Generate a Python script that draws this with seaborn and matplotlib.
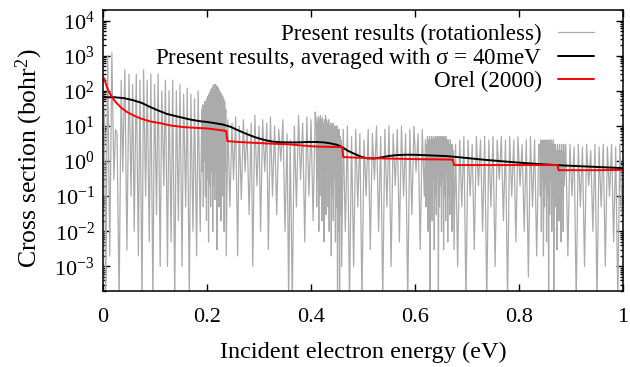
import numpy as np
import pandas as pd
import matplotlib
matplotlib.use("Agg")
import matplotlib.pyplot as plt
import seaborn as sns
from matplotlib.ticker import FixedLocator, FixedFormatter, LogLocator, NullFormatter

# ---------------- data ----------------
# Present results (rotationless): energy (eV) and cross section (bohr^2)
e_gray = [
    0.000, 0.003, 0.005, 0.009, 0.013, 0.017, 0.021, 0.024, 0.027, 0.031,
    0.035, 0.038, 0.042, 0.046, 0.050, 0.054, 0.057, 0.060, 0.064, 0.068,
    0.071, 0.075, 0.078, 0.082, 0.085, 0.089, 0.092, 0.096, 0.099, 0.103,
    0.106, 0.110, 0.113, 0.117, 0.120, 0.124, 0.127, 0.131, 0.134, 0.138,
    0.141, 0.145, 0.148, 0.152, 0.155, 0.159, 0.162, 0.166, 0.169, 0.173,
    0.176, 0.180, 0.183, 0.187,
    0.190, 0.191, 0.192, 0.193, 0.194, 0.195, 0.196, 0.197, 0.198, 0.199,
    0.200, 0.201, 0.202, 0.203, 0.204, 0.205, 0.206, 0.207, 0.208, 0.209,
    0.210, 0.211, 0.212, 0.213, 0.214, 0.215, 0.216, 0.217, 0.218, 0.219,
    0.220, 0.221, 0.222, 0.223, 0.224, 0.225, 0.226, 0.227, 0.228, 0.229,
    0.230, 0.231, 0.232, 0.233, 0.234, 0.235, 0.236, 0.237,
    0.240, 0.244, 0.248, 0.251, 0.255, 0.259, 0.262, 0.266, 0.270, 0.273,
    0.277, 0.281, 0.285, 0.288, 0.292, 0.296, 0.300, 0.303, 0.307, 0.311,
    0.315, 0.318, 0.322, 0.326, 0.330, 0.334, 0.338, 0.342, 0.346, 0.350,
    0.354, 0.357, 0.360, 0.364, 0.368, 0.372, 0.376, 0.380, 0.384, 0.388,
    0.392, 0.396, 0.400, 0.404, 0.408,
    0.410, 0.411, 0.412, 0.413, 0.414, 0.415, 0.416, 0.417, 0.418, 0.419,
    0.420, 0.421, 0.422, 0.423, 0.424, 0.425, 0.426, 0.427, 0.428, 0.429,
    0.430, 0.431, 0.432, 0.433, 0.434, 0.435, 0.436, 0.437, 0.438, 0.439,
    0.440, 0.441, 0.442, 0.443, 0.444, 0.445, 0.446, 0.447, 0.448, 0.449,
    0.450, 0.451, 0.452, 0.453, 0.454, 0.455, 0.456, 0.457, 0.458, 0.459,
    0.462, 0.466, 0.470, 0.474, 0.478, 0.482, 0.486, 0.490, 0.494, 0.498,
    0.502, 0.506, 0.510, 0.514, 0.518, 0.522, 0.526, 0.530, 0.534, 0.538,
    0.542, 0.546, 0.550, 0.554, 0.558, 0.562, 0.566, 0.570, 0.574, 0.578,
    0.582, 0.586, 0.590, 0.594, 0.598, 0.602, 0.606, 0.610, 0.614, 0.618,
    0.620, 0.621, 0.622, 0.623, 0.624, 0.625, 0.626, 0.627, 0.628, 0.629,
    0.630, 0.631, 0.632, 0.633, 0.634, 0.635, 0.636, 0.637, 0.638, 0.639,
    0.640, 0.641, 0.642, 0.643, 0.644, 0.645, 0.646, 0.647, 0.648, 0.649,
    0.650, 0.651, 0.652, 0.653, 0.654, 0.655, 0.656, 0.657, 0.658, 0.659,
    0.660, 0.661, 0.662, 0.663, 0.664, 0.665, 0.666, 0.667, 0.668, 0.669,
    0.670, 0.671, 0.672, 0.673, 0.674, 0.675,
    0.678, 0.682, 0.686, 0.690, 0.694, 0.698, 0.702, 0.706, 0.710, 0.714,
    0.718, 0.722, 0.726, 0.730, 0.734, 0.738, 0.742, 0.746, 0.750, 0.754,
    0.758, 0.762, 0.766, 0.770, 0.774, 0.778, 0.782, 0.786, 0.790, 0.794,
    0.798, 0.802, 0.806, 0.810, 0.814, 0.818, 0.822, 0.826, 0.830, 0.834,
    0.838,
    0.840, 0.841, 0.842, 0.843, 0.844, 0.845, 0.846, 0.847, 0.848, 0.849,
    0.850, 0.851, 0.852, 0.853, 0.854, 0.855, 0.856, 0.857, 0.858, 0.859,
    0.860, 0.861, 0.862, 0.863, 0.864, 0.865, 0.866, 0.867, 0.868, 0.869,
    0.870, 0.871, 0.872, 0.873, 0.874, 0.875, 0.876, 0.877, 0.878, 0.879,
    0.880, 0.881, 0.882, 0.883, 0.884, 0.885, 0.886, 0.887,
    0.890, 0.894, 0.898, 0.902, 0.906, 0.910, 0.914, 0.918, 0.922, 0.926,
    0.930, 0.934, 0.938, 0.942, 0.946, 0.950, 0.954, 0.958, 0.962, 0.966,
    0.970, 0.974, 0.978, 0.982, 0.986, 0.990, 0.994, 0.998, 1.000,
]
xs_gray = [
    60, 20, 1e-4, 1e3, 2e-3, 1.2e3, 3e-1, 8, 6, 1e-4,
    2e2, 5e-1, 4e2, 3e-3, 3e2, 1e-1, 1.5e2, 1e-2, 3e2, 2e-3,
    2e2, 1e-4, 4e2, 1e-1, 2e2, 5e-3, 3e2, 1e-4, 1.5e2, 3e-2,
    3e2, 1e-3, 1e2, 2e-1, 2e2, 1e-3, 1e2, 5e-3, 2e2, 1e-4,
    1e2, 2e-2, 1.5e2, 1e-3, 8e1, 5e-2, 1.2e2, 1e-4, 8e1, 1e-2,
    6e1, 2e-3, 1e2, 1e-2,
    30, 0.5, 40, 0.05, 35, 1, 50, 0.1, 40, 0.02,
    60, 0.3, 70, 0.005, 80, 0.2, 90, 0.05, 110, 0.5,
    120, 0.01, 140, 0.2, 150, 0.08, 150, 0.5, 140, 0.003,
    130, 0.3, 120, 0.05, 100, 0.8, 90, 0.02, 80, 0.4,
    70, 0.1, 60, 0.01, 50, 0.5, 30, 2e-3,
    15, 5e-2, 12, 3e-1, 18, 2e-3, 10, 8e-2, 15, 5e-1,
    8, 3e-2, 12, 1e-3, 20, 2e-1, 10, 1e-2, 15, 5e-1,
    12, 3e-3, 18, 1e-1, 10, 3e-2, 8, 1, 15, 1e-2,
    6, 1e-4, 4, 1e-4, 10, 5e-2, 20, 3e-1, 12, 5e-3,
    18, 1e-1, 15, 2e-2, 25,
    15, 0.05, 12, 0.3, 18, 0.01, 15, 0.1, 20, 0.5,
    15, 0.02, 18, 0.2, 12, 0.005, 15, 0.3, 20, 0.03,
    15, 0.8, 12, 0.05, 15, 0.01, 10, 0.2, 12, 0.002,
    10, 0.1, 12, 0.02, 8, 0.3, 10, 0.005, 8, 0.05,
    10, 1e-4, 6, 0.01, 8, 1e-4, 5, 0.03, 4, 1e-3,
    8, 1e-2, 10, 1e-4, 5, 1e-3, 8, 5e-2, 6, 1e-4,
    4, 1e-1, 8, 3e-3, 6, 3e-1, 10, 1e-2, 5, 1e-4,
    8, 5e-2, 10, 1e-3, 6, 2e-1, 8, 5e-3, 10, 1e-1,
    6, 1e-4, 8, 3e-2, 10, 5e-1, 6, 3e-3, 8, 1e-1,
    4, 0.05, 3, 0.2, 5, 0.01, 4, 0.5, 5, 1e-4,
    4, 0.1, 5, 0.02, 4, 0.3, 5, 3e-3, 4, 0.1,
    5, 0.03, 4, 0.5, 5, 1e-4, 4, 0.05, 5, 0.2,
    4, 0.01, 5, 0.3, 4, 3e-3, 5, 0.1, 4, 0.02,
    5, 0.5, 4, 5e-3, 4, 0.1, 3, 0.03, 4, 0.3,
    3, 0.01, 3, 0.1, 2, 3e-3,
    3, 1e-3, 4, 5e-2, 5, 1e-4, 4, 1e-1, 3, 3e-3,
    5, 2e-1, 4, 1e-2, 5, 1e-4, 4, 5e-2, 5, 1e-3,
    4, 3e-1, 5, 2e-2, 4, 1e-4, 5, 1e-1, 4, 5e-3,
    5, 2e-1, 3, 1e-2, 4, 5e-4, 5, 5e-2, 4, 2e-3,
    3,
    3, 0.1, 4, 0.01, 3, 0.3, 4, 2e-3, 3, 0.05,
    4, 0.2, 3, 5e-3, 4, 0.1, 3, 1e-4, 4, 0.03,
    3, 0.3, 4, 0.01, 3, 0.1, 4, 1e-4, 3, 0.05,
    3, 0.2, 2, 3e-3, 3, 0.1, 2, 0.02, 3, 0.3,
    2, 5e-3, 3, 0.1, 2, 0.01, 3, 0.2,
    3, 2e-3, 3, 1e-1, 2.5, 1e-4, 3, 5e-2, 2.5, 1e-3,
    3, 2e-1, 2, 1e-2, 3, 1e-4, 2.5, 5e-2, 3, 1e-3,
    2.5, 1e-1, 3, 5e-3, 2.5, 1e-4, 3, 3e-2, 2,
]

# Present results, averaged with sigma = 40 meV
e_avg = [0.000, 0.020, 0.040, 0.058, 0.075, 0.090, 0.105, 0.123, 0.140, 0.154,
         0.170, 0.187, 0.200, 0.215, 0.230, 0.245, 0.260, 0.275, 0.292, 0.310,
         0.325, 0.340, 0.356, 0.375, 0.395, 0.410, 0.425, 0.437, 0.450, 0.460,
         0.470, 0.480, 0.495, 0.507, 0.520, 0.533, 0.550, 0.565, 0.585, 0.605,
         0.630, 0.663, 0.700, 0.730, 0.770, 0.810, 0.850, 0.894, 0.950, 1.000]
xs_avg = [65, 66, 62, 54, 45, 35, 28, 22, 19, 17,
          15, 13.6, 13, 12, 11, 9.5, 7.5, 6, 4.8, 4.0,
          3.6, 3.45, 3.4, 3.4, 3.5, 3.5, 3.4, 3.2, 2.9, 2.5,
          2.0, 1.7, 1.35, 1.2, 1.18, 1.25, 1.4, 1.48, 1.52, 1.5,
          1.45, 1.38, 1.22, 1.1, 0.98, 0.88, 0.8, 0.74, 0.68, 0.63]

# Orel (2000)
e_orel = [0.002, 0.006, 0.010, 0.013, 0.020, 0.026, 0.035, 0.046, 0.060, 0.071,
          0.090, 0.110, 0.130, 0.154, 0.180, 0.200, 0.220, 0.237, 0.239, 0.260,
          0.292, 0.320, 0.356, 0.380, 0.408, 0.430, 0.460, 0.462, 0.490, 0.525,
          0.560, 0.610, 0.640, 0.673, 0.675, 0.720, 0.780, 0.830, 0.874, 0.876,
          0.900, 0.950, 1.000]
xs_orel = [230, 150, 100, 85, 58, 45, 33, 25, 19.5, 16.6,
           13.5, 12, 10.3, 9.3, 8.8, 8.5, 7.8, 7.2, 3.7, 3.5,
           3.3, 3.15, 3.0, 2.8, 2.6, 2.55, 2.5, 1.3, 1.25, 1.2,
           1.17, 1.13, 1.12, 1.1, 0.77, 0.77, 0.77, 0.77, 0.77, 0.55,
           0.55, 0.55, 0.56]

labels = ["Present results (rotationless)",
          r"Present results, averaged with $\sigma$ = 40meV",
          "Orel (2000)"]
ytick_vals = [1e-3, 1e-2, 1e-1, 1e0, 1e1, 1e2, 1e3, 1e4]
ytick_labels = [r"$10^{-3}$", r"$10^{-2}$", r"$10^{-1}$", r"$10^{0}$",
                r"$10^{1}$", r"$10^{2}$", r"$10^{3}$", r"$10^{4}$"]
xtick_vals = [0, 0.2, 0.4, 0.6, 0.8, 1]
xtick_labels = ["0", "0.2", "0.4", "0.6", "0.8", "1"]

# ---------------- plotting ----------------
sns.set_theme(style="ticks")
plt.rcParams["font.family"] = ["Liberation Serif", "DejaVu Serif"]
plt.rcParams["mathtext.fontset"] = "custom"
plt.rcParams["mathtext.rm"] = "Liberation Serif"
plt.rcParams["mathtext.it"] = "Liberation Serif:italic"
plt.rcParams["mathtext.default"] = "rm"
plt.rcParams["text.color"] = "black"
plt.rcParams["axes.labelcolor"] = "black"
plt.rcParams["xtick.color"] = "black"
plt.rcParams["ytick.color"] = "black"

fig = plt.figure(figsize=(6.3, 3.67), dpi=100)
ax = fig.add_axes([103 / 630, 1 - 291 / 367, 520 / 630, 281 / 367])

df_gray = pd.DataFrame({"E": e_gray, "xs": xs_gray})
df_avg = pd.DataFrame({"E": e_avg, "xs": xs_avg})
df_orel = pd.DataFrame({"E": e_orel, "xs": xs_orel})

sns.lineplot(data=df_gray, x="E", y="xs", ax=ax, color="#ababab", lw=0.9,
             estimator=None, sort=False, label=labels[0])
sns.lineplot(data=df_avg, x="E", y="xs", ax=ax, color="black", lw=1.4,
             estimator=None, sort=False, label=labels[1])
sns.lineplot(data=df_orel, x="E", y="xs", ax=ax, color="#ff0000", lw=1.4,
             estimator=None, sort=False, label=labels[2])

ax.set_yscale("log")
ax.set_xlim(0, 1)
ax.set_ylim(2e-4, 2e4)

ax.yaxis.set_major_locator(FixedLocator(ytick_vals))
ax.yaxis.set_major_formatter(FixedFormatter(ytick_labels))
ax.yaxis.set_minor_locator(LogLocator(base=10, subs=np.arange(2, 10), numticks=20))
ax.yaxis.set_minor_formatter(NullFormatter())
ax.xaxis.set_major_locator(FixedLocator(xtick_vals))
ax.xaxis.set_major_formatter(FixedFormatter(xtick_labels))

ax.tick_params(axis="both", which="both", direction="in", top=True, right=True,
               labelsize=16, colors="black", width=1.0)
ax.tick_params(axis="both", which="major", length=5)
ax.tick_params(axis="x", which="major", pad=12)
ax.tick_params(axis="y", which="major", pad=6)
ax.tick_params(axis="both", which="minor", length=2.5)

for s in ax.spines.values():
    s.set_linewidth(1.1)
    s.set_color("black")

ax.set_xlabel("Incident electron energy (eV)", fontsize=17.5, labelpad=11)
ax.set_ylabel(r"Cross section (bohr$^2$)", fontsize=18.5)
ax.yaxis.set_label_coords(-0.112, 0.473)

leg = ax.legend(loc="upper right", bbox_to_anchor=(0.944, 0.95), frameon=False,
                markerfirst=False, fontsize=16.6, handlelength=1.55,
                handletextpad=0.7, labelspacing=0.02, borderaxespad=0.0,
                borderpad=0.0)

fig.savefig("out.png", dpi=100)
